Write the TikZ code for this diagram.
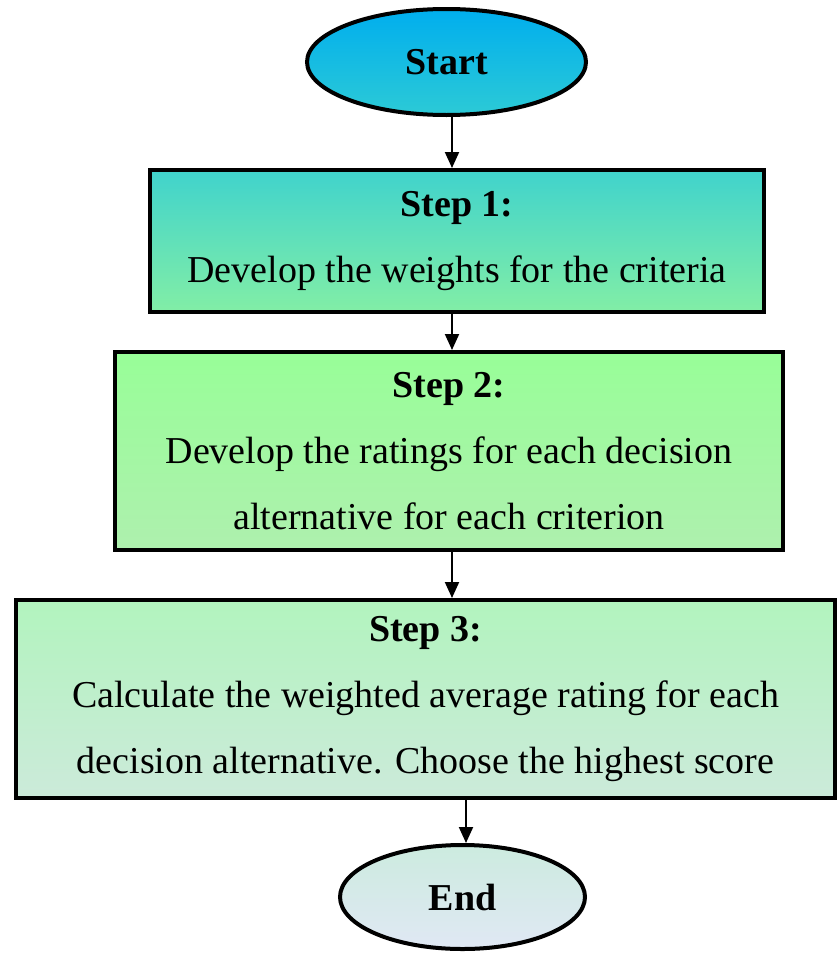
\documentclass[tikz,border=0pt]{standalone}
\usepackage{fontspec}
\setmainfont{Liberation Serif}
\usetikzlibrary{shapes.geometric,arrows.meta}
\definecolor{stT}{HTML}{00AEEE}
\definecolor{stB}{HTML}{2CCAD6}
\definecolor{aT}{HTML}{40D3CC}
\definecolor{aB}{HTML}{82EEA6}
\definecolor{bT}{HTML}{98FE98}
\definecolor{bB}{HTML}{AEF0AE}
\definecolor{cT}{HTML}{B2F4BE}
\definecolor{cB}{HTML}{CCEADA}
\definecolor{eT}{HTML}{CCEBDF}
\definecolor{eB}{HTML}{E0E8F4}
\tikzset{
  txt/.style={font=\fontsize{38}{66}\selectfont, align=center},
  stepbox/.style={txt, draw=black, line width=4pt, rectangle, inner sep=0pt},
  oval/.style={txt, draw=black, line width=4pt, ellipse, inner sep=0pt, font=\fontsize{38}{66}\selectfont\bfseries},
  arr/.style={line width=2pt, -{Triangle[length=16pt,width=14pt]}}
}
\begin{document}
\begin{tikzpicture}[x=1pt,y=-1pt]
\useasboundingbox (0,0) rectangle (837,953);
\node[oval, minimum width=279pt, minimum height=106pt, top color=stT, bottom color=stB] (st) at (446.5,62) {Start};
\node[stepbox, minimum width=614pt, minimum height=142pt, top color=aT, bottom color=aB] (s1) at (457,241)
  {\textbf{Step 1:}\\Develop the weights for the criteria};
\node[stepbox, minimum width=668pt, minimum height=198pt, top color=bT, bottom color=bB] (s2) at (449,451)
  {\textbf{Step 2:}\\Develop the ratings for each decision\\alternative for each criterion};
\node[stepbox, minimum width=819pt, minimum height=198pt, top color=cT, bottom color=cB] (s3) at (425.5,699)
  {\textbf{Step 3:}\\Calculate the weighted average rating for each\\decision alternative. Choose the highest score};
\node[oval, minimum width=245pt, minimum height=104pt, top color=eT, bottom color=eB] (en) at (462.5,897) {End};
\coordinate (ax) at (452,0);
\coordinate (bx) at (466,0);
\draw[arr] (st.south -| ax) -- (s1.north -| ax);
\draw[arr] (s1.south -| ax) -- (s2.north -| ax);
\draw[arr] (s2.south -| ax) -- (s3.north -| ax);
\draw[arr] (s3.south -| bx) -- (en.north -| bx);
\end{tikzpicture}
\end{document}
